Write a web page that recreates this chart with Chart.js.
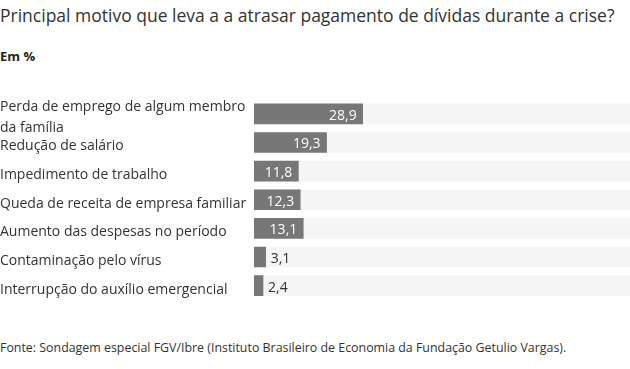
<!DOCTYPE html>
<html>
<head>
<meta charset="utf-8">
<script src="https://cdn.jsdelivr.net/npm/chart.js@4/dist/chart.umd.min.js"></script>
<style>
  body { margin: 0; background: #fff; font-family: "Open Sans", sans-serif; color: #333; }
  #wrap { position: relative; width: 630px; height: 369px; overflow: hidden; }
  .title { position: absolute; left: 0; top: 3px; font-size: 17.5px; color: #333; white-space: nowrap; }
  .sub { position: absolute; left: 0; top: 47px; font-size: 13px; font-weight: 700; color: #222; }
  .src { position: absolute; left: 0; top: 339px; font-size: 12.4px; color: #333; white-space: nowrap; }
  #box { position: absolute; left: 0; top: 89px; width: 630px; height: 232px; }
</style>
</head>
<body>
<div id="wrap">
  <div class="title">Principal motivo que leva a a atrasar pagamento de dívidas durante a crise?</div>
  <div class="sub">Em %</div>
  <div id="box"><canvas id="chart"></canvas></div>
  <div class="src">Fonte: Sondagem especial FGV/Ibre (Instituto Brasileiro de Economia da Fundação Getulio Vargas).</div>
</div>
<script>
const categories = [
    ['Perda de emprego de algum membro', 'da família'],
    'Redução de salário',
    'Impedimento de trabalho',
    'Queda de receita de empresa familiar',
    'Aumento das despesas no período',
    'Contaminação pelo vírus',
    'Interrupção do auxílio emergencial'
];
const values = [28.9, 19.3, 11.8, 12.3, 13.1, 3.1, 2.4];
const trackValues = [100, 100, 100, 100, 100, 100, 100];

// value labels: inside the bar when it fits, outside otherwise
const valueLabels = {
    id: 'valueLabels',
    afterDatasetsDraw(chart) {
        const ctx = chart.ctx;
        const meta = chart.getDatasetMeta(1);
        ctx.save();
        ctx.font = '14px "Open Sans", sans-serif';
        ctx.textBaseline = 'middle';
        meta.data.forEach((bar, i) => {
            const txt = values[i].toFixed(1).replace('.', ',');
            const w = bar.x - bar.base;
            if (w > 35) {
                ctx.fillStyle = '#fff';
                ctx.textAlign = 'right';
                ctx.fillText(txt, bar.x - 6, bar.y + 2);
            } else {
                ctx.fillStyle = '#333';
                ctx.textAlign = 'left';
                ctx.fillText(txt, bar.x + 5, bar.y + 2);
            }
        });
        ctx.restore();
    }
};

new Chart(document.getElementById('chart'), {
    type: 'bar',
    data: {
        labels: categories,
        datasets: [
            {
                data: trackValues,
                backgroundColor: '#f5f5f5',
                barThickness: 20,
                grouped: false,
                order: 2
            },
            {
                data: values,
                backgroundColor: '#777777',
                barThickness: 20,
                grouped: false,
                order: 1
            }
        ]
    },
    options: {
        indexAxis: 'y',
        responsive: true,
        maintainAspectRatio: false,
        animation: false,
        layout: { padding: { top: 10, bottom: 11, left: 0, right: 0 } },
        plugins: {
            legend: { display: false },
            tooltip: { enabled: false }
        },
        scales: {
            x: { display: false, min: 0, max: 100 },
            y: {
                grid: { display: false },
                border: { display: false },
                afterFit(scale) { scale.width = 254; },
                ticks: {
                    autoSkip: false,
                    crossAlign: 'far',
                    padding: 0,
                    labelOffset: 4,
                    color: '#333',
                    font: { family: '"Open Sans", sans-serif', size: 14, lineHeight: 1.5 }
                }
            }
        }
    },
    plugins: [valueLabels]
});
</script>
</body>
</html>
